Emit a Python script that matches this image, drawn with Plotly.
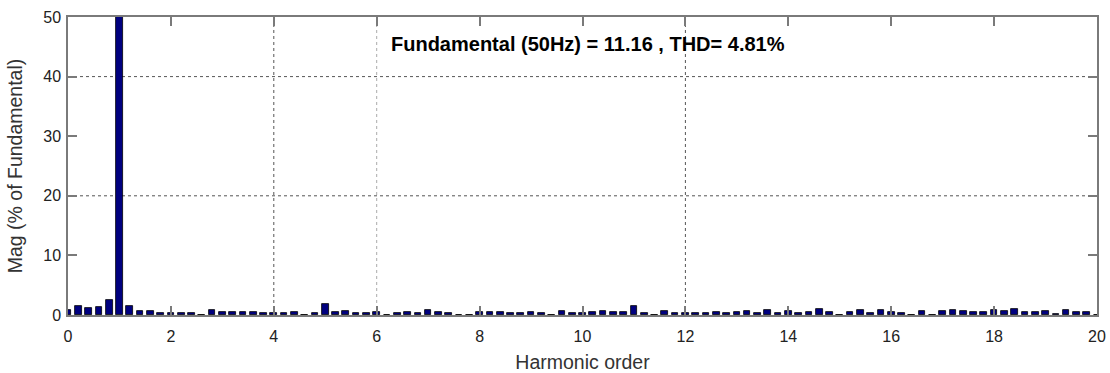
import plotly.graph_objects as go

# Harmonic orders of the FFT bins (10 Hz resolution on a 50 Hz fundamental)
harmonic_order = [
    0.0, 0.2, 0.4, 0.6, 0.8, 1.0, 1.2, 1.4, 1.6, 1.8,
    2.0, 2.2, 2.4, 2.6, 2.8, 3.0, 3.2, 3.4, 3.6, 3.8,
    4.0, 4.2, 4.4, 4.6, 4.8, 5.0, 5.2, 5.4, 5.6, 5.8,
    6.0, 6.2, 6.4, 6.6, 6.8, 7.0, 7.2, 7.4, 7.6, 7.8,
    8.0, 8.2, 8.4, 8.6, 8.8, 9.0, 9.2, 9.4, 9.6, 9.8,
    10.0, 10.2, 10.4, 10.6, 10.8, 11.0, 11.2, 11.4, 11.6, 11.8,
    12.0, 12.2, 12.4, 12.6, 12.8, 13.0, 13.2, 13.4, 13.6, 13.8,
    14.0, 14.2, 14.4, 14.6, 14.8, 15.0, 15.2, 15.4, 15.6, 15.8,
    16.0, 16.2, 16.4, 16.6, 16.8, 17.0, 17.2, 17.4, 17.6, 17.8,
    18.0, 18.2, 18.4, 18.6, 18.8, 19.0, 19.2, 19.4, 19.6, 19.8,
    20.0,
]

# Magnitude of each bin in % of the fundamental
magnitude_pct = [
    0.85, 1.5, 1.1, 1.3, 2.5, 100.0, 1.5, 0.6, 0.6, 0.3,
    0.3, 0.3, 0.3, 0.05, 0.8, 0.45, 0.45, 0.45, 0.45, 0.3,
    0.3, 0.3, 0.45, 0.05, 0.3, 1.9, 0.45, 0.6, 0.3, 0.3,
    0.45, 0.05, 0.3, 0.45, 0.3, 0.9, 0.45, 0.3, 0.05, 0.05,
    0.45, 0.45, 0.45, 0.3, 0.3, 0.45, 0.3, 0.05, 0.6, 0.3,
    0.3, 0.45, 0.6, 0.45, 0.45, 1.55, 0.3, 0.05, 0.6, 0.3,
    0.3, 0.3, 0.3, 0.45, 0.3, 0.45, 0.6, 0.3, 0.9, 0.3,
    0.6, 0.3, 0.45, 1.05, 0.45, 0.05, 0.45, 0.9, 0.3, 0.9,
    0.45, 0.3, 0.05, 0.6, 0.05, 0.6, 0.9, 0.6, 0.45, 0.45,
    0.9, 0.6, 1.0, 0.45, 0.45, 0.6, 0.2, 0.9, 0.45, 0.45,
    0.05,
]

x_ticks = [0, 2, 4, 6, 8, 10, 12, 14, 16, 18, 20]
y_ticks = [0, 10, 20, 30, 40, 50]

fundamental_hz = 50
fundamental_mag = 11.16
thd_pct = 4.81

font_family = "Liberation Sans, Arial, sans-serif"
text_color = "#222222"
frame_color = "#7a7a7a"

fig = go.Figure()

fig.add_trace(go.Bar(
    x=harmonic_order,
    y=magnitude_pct,
    width=0.13,
    marker=dict(color="#00007f", line=dict(color="#000000", width=0.8)),
    showlegend=False,
))

# Dotted grid lines
grid_style = dict(color="#555555", width=1, dash="dot")
for gx in [4, 12]:
    fig.add_shape(type="line", xref="x", yref="paper", x0=gx, x1=gx, y0=0, y1=1,
                  line=grid_style, layer="below")
fig.add_shape(type="line", xref="x", yref="paper", x0=6, x1=6, y0=0, y1=1,
              line=dict(color="#aaaaaa", width=1, dash="dot"), layer="below")
for gy in [20, 40]:
    fig.add_shape(type="line", xref="paper", yref="y", x0=0, x1=1, y0=gy, y1=gy,
                  line=grid_style, layer="below")

fig.add_annotation(
    x=0.312, y=0.91, xref="paper", yref="paper",
    xanchor="left", yanchor="middle", showarrow=False,
    text=f"<b>Fundamental ({fundamental_hz}Hz) = {fundamental_mag:.2f} , THD= {thd_pct:.2f}%</b>",
    font=dict(family=font_family, size=20, color="#000000"),
)

axis_common = dict(
    showline=True, linecolor=frame_color, linewidth=1.5, mirror="ticks",
    ticks="inside", ticklen=9, tickwidth=1.5, tickcolor=frame_color,
    showgrid=False, zeroline=False, automargin=False,
    tickfont=dict(family=font_family, size=16, color=text_color),
)

fig.update_xaxes(
    range=[0, 20], tickvals=x_ticks, ticklabelstandoff=6,
    title=dict(text="Harmonic order",
               font=dict(family=font_family, size=19.5, color="#333333")),
    **axis_common,
)
fig.update_yaxes(
    range=[0, 50], tickvals=y_ticks, ticklabelstandoff=2,
    title=dict(text="Mag (% of Fundamental)",
               font=dict(family=font_family, size=19.5, color="#333333")),
    **axis_common,
)

fig.update_layout(
    width=1110, height=373,
    margin=dict(l=68, r=13, t=17, b=58),
    plot_bgcolor="#ffffff", paper_bgcolor="#ffffff",
    bargap=0,
)

fig.write_html("out.html")
